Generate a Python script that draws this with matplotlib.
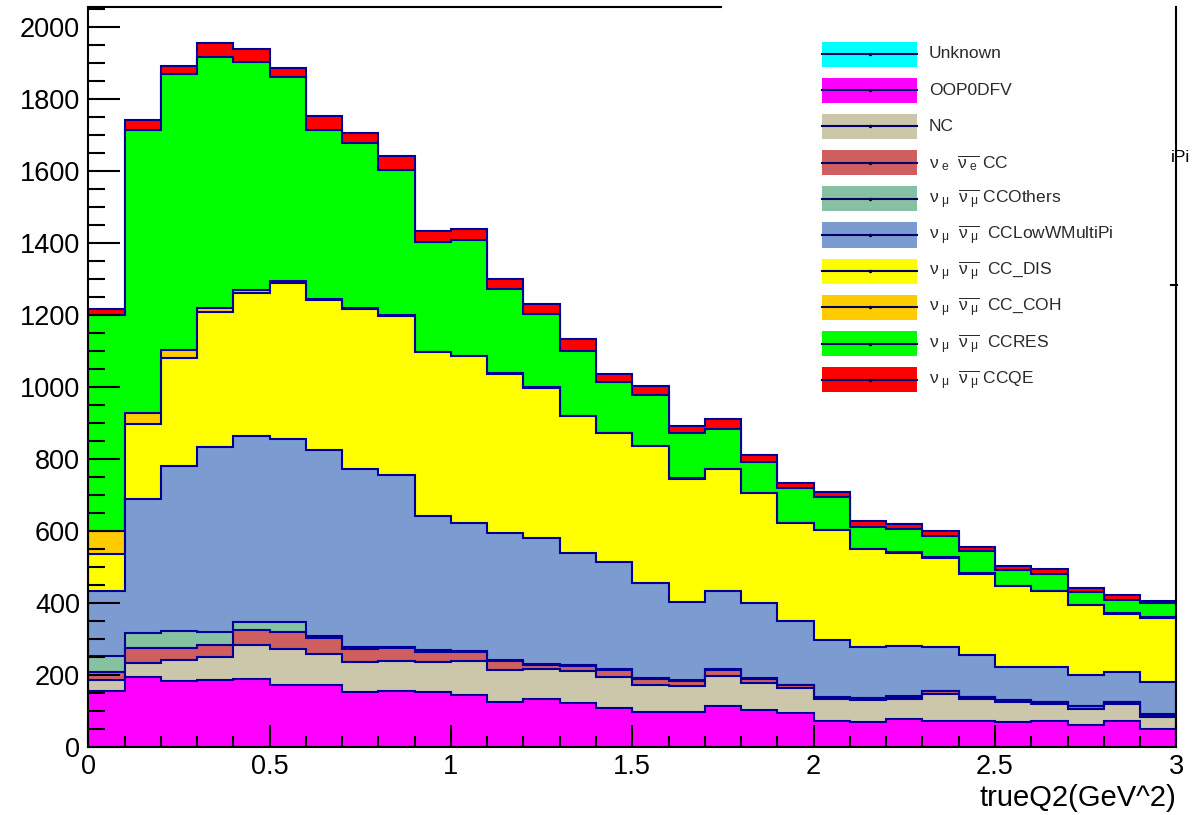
import numpy as np
import matplotlib
matplotlib.use('Agg')
import matplotlib.pyplot as plt
from matplotlib.patches import Rectangle
from matplotlib.lines import Line2D
from matplotlib.ticker import MultipleLocator

plt.rcParams['font.family'] = ['Liberation Sans', 'DejaVu Sans']
plt.rcParams['mathtext.fontset'] = 'custom'
plt.rcParams['mathtext.rm'] = 'Liberation Sans'
plt.rcParams['mathtext.it'] = 'Liberation Sans'
plt.rcParams['mathtext.bf'] = 'Liberation Sans'

# 30 bins of trueQ2, 0.1 GeV^2 wide
q2_edges = np.round(np.arange(31) * 0.1, 1)

# per-component counts, bottom of the stack first
unknown = [0] * 30
oop0dfv = [156, 196, 184, 187, 190, 173, 173, 154, 157, 154, 145, 127, 134, 124, 110,
           99, 99, 116, 104, 95, 74, 69, 79, 72, 74, 70, 74, 62, 72, 50]
nc = [31, 39, 58, 65, 93, 99, 85, 84, 84, 83, 94, 88, 83, 88, 86,
      74, 72, 83, 74, 70, 60, 63, 55, 75, 61, 55, 46, 44, 48, 35]
nue_cc = [23, 40, 33, 32, 43, 47, 45, 35, 34, 29, 26, 26, 12, 15, 19,
          17, 14, 16, 12, 7, 4, 5, 7, 8, 4, 6, 6, 9, 6, 6]
numu_ccothers = [44, 43, 48, 36, 23, 30, 7, 6, 4, 3, 3, 2, 2, 2, 2,
                 2, 2, 2, 2, 2, 2, 1, 1, 2, 1, 1, 1, 1, 1, 1]
numu_lowwmultipi = [181, 371, 458, 515, 516, 507, 516, 493, 476, 373, 354, 351, 350, 310, 298,
                    265, 217, 218, 210, 178, 159, 141, 140, 121, 117, 90, 95, 86, 81, 89]
numu_dis = [101, 208, 301, 374, 397, 434, 417, 445, 443, 455, 464, 444, 418, 380, 358,
            379, 342, 338, 304, 270, 304, 271, 258, 249, 225, 226, 211, 192, 163, 179]
numu_coh = [66, 31, 22, 10, 7, 6, 2, 2, 2, 2, 1, 1, 1, 1, 1,
            1, 1, 1, 1, 1, 1, 1, 1, 1, 1, 1, 1, 1, 1, 1]
numu_res = [598, 787, 766, 699, 635, 566, 470, 459, 404, 304, 321, 234, 204, 180, 140,
            142, 125, 110, 85, 96, 90, 62, 65, 60, 63, 42, 47, 36, 37, 41]
numu_qe = [18, 26, 22, 39, 36, 24, 39, 29, 38, 32, 30, 27, 28, 35, 23,
           23, 20, 28, 21, 14, 14, 16, 13, 13, 11, 13, 14, 10, 14, 5]

mu_pair = r'$\nu_{\ \mu}\ \ \overline{\nu_{\ \mu}}$'
labels = ['Unknown', 'OOP0DFV', 'NC',
          r'$\nu_{\ e}\ \ \overline{\nu_{\ e}}$ CC',
          mu_pair + ' CCOthers',
          mu_pair + '  CCLowWMultiPi',
          mu_pair + '  CC_DIS',
          mu_pair + '  CC_COH',
          mu_pair + '  CCRES',
          mu_pair + ' CCQE']
colors = ['#00ffff', '#ff00ff', '#ccc6aa', '#cf5f5f', '#86c2a2',
          '#7b9bd1', '#ffff00', '#ffcc00', '#00ff00', '#ff0000']
line_col = '#000099'

W, H = 1203, 815
fig = plt.figure(figsize=(W / 100, H / 100), dpi=100)
ax = fig.add_axes([88.3 / W, 67.7 / H, 1088 / W, 740 / H])

layers = [unknown, oop0dfv, nc, nue_cc, numu_ccothers, numu_lowwmultipi,
          numu_dis, numu_coh, numu_res, numu_qe]
cum = np.cumsum(np.array(layers, dtype=float), axis=0)
# THStack style: draw the total first, then each lower sum on top of it
for k in range(len(layers) - 1, -1, -1):
    ax.stairs(cum[k], q2_edges, baseline=0, fill=True,
              facecolor=colors[k], edgecolor=line_col, linewidth=1.5)

ymax = 2055
ax.set_xlim(0, 3)
ax.set_ylim(0, ymax)
ax.set_xticks([0, 0.5, 1, 1.5, 2, 2.5, 3])
ax.set_xticklabels(['0', '0.5', '1', '1.5', '2', '2.5', '3'])
ax.xaxis.set_minor_locator(MultipleLocator(0.1))
ax.set_yticks(np.arange(0, 2001, 200))
ax.yaxis.set_minor_locator(MultipleLocator(50))
ax.tick_params(which='both', direction='in', top=False, right=False, width=1.5, color='k')
ax.tick_params(axis='y', which='major', length=23, pad=6, labelsize=19.5)
ax.tick_params(axis='y', which='minor', length=12)
ax.tick_params(axis='x', which='major', length=16, pad=5, labelsize=19.5)
ax.tick_params(axis='x', which='minor', length=8)
for s in ax.spines.values():
    s.set_linewidth(1.5)
ax.spines['top'].set_visible(False)
ax.axhline(ymax, xmin=0, xmax=(721 - 88.3) / 1088, color='k', lw=1.5, clip_on=False, zorder=3)

ax.set_xlabel('trueQ2(GeV^2)', fontsize=21, ha='right')
ax.xaxis.set_label_coords(1.0, -0.05)

# legend pasted in the upper right, ROOT style (fill + line + marker)
for i, (lab, col) in enumerate(zip(labels, colors)):
    yc = 54 + 36.2 * i
    fy = 1 - yc / H
    fig.add_artist(Rectangle((822 / W, fy - 12.5 / H), 95 / W, 25 / H,
                             transform=fig.transFigure, facecolor=col, edgecolor='none'))
    fig.add_artist(Line2D([822 / W, 917 / W], [fy, fy], transform=fig.transFigure,
                          color='#000066', lw=1.5))
    fig.add_artist(Line2D([869.5 / W], [fy], transform=fig.transFigure, marker='.',
                          markersize=3, color='#000033'))
    fig.text(929 / W, fy, lab, fontsize=12.5, color='#2a2a2a', va='center', ha='left')

fig.text(1171 / W, 1 - 158 / H, 'iPi', fontsize=12.5, va='center', ha='left')
fig.add_artist(Line2D([1171 / W, 1177 / W], [1 - 285 / H, 1 - 285 / H],
                      transform=fig.transFigure, color='k', lw=1.5))

fig.savefig('out.png', dpi=100)
